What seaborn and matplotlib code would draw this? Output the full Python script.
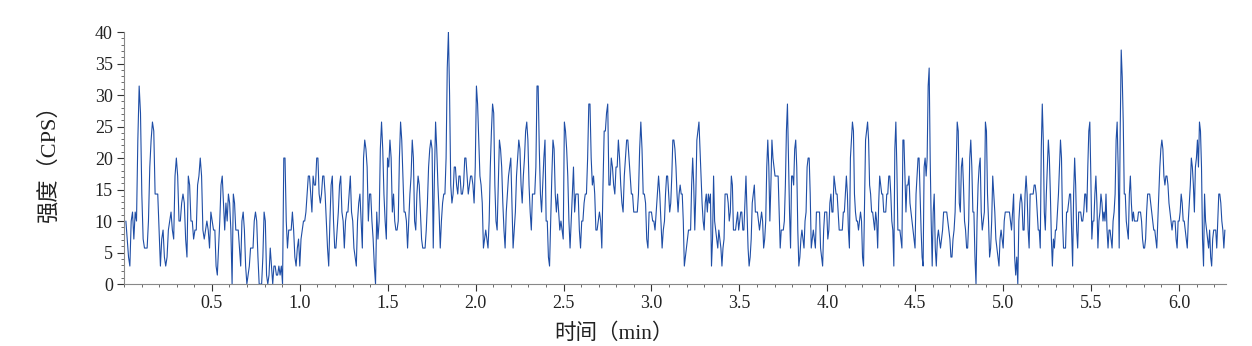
import numpy as np
import pandas as pd
import matplotlib
matplotlib.use("Agg")
import matplotlib.pyplot as plt
from matplotlib.ticker import MultipleLocator
import seaborn as sns

# Detector readings are stored in steps of 10/7 CPS (half a count per 0.35 s dwell).
CPS_PER_STEP = 10 / 7

# Segment boundaries of the acquisition (min); each list below fills one segment.
segment_edges = [0.011, 0.517, 1.028, 1.540, 2.051, 2.563, 3.074,
                 3.585, 4.097, 4.608, 5.119, 5.631, 6.261]

steps_00 = [7, 5, 3, 2, 7, 8, 5, 8, 7, 16, 22, 19, 10, 5, 4, 4, 4, 7, 13, 16, 18, 17, 10, 10,
            10, 6, 2, 5, 6, 3, 2, 3, 6, 7, 8, 6, 5, 12, 14, 12, 7, 7, 9, 10, 9, 5, 3, 12, 11, 7,
            7, 5, 6, 6, 11, 12, 14, 12, 6, 5, 6, 7, 6, 4, 8, 7, 6]
steps_01 = [6, 2, 1, 4, 7, 11, 12, 9, 6, 9, 7, 10, 9, 6, 0, 10, 9, 6, 6, 6, 4, 2, 7, 8, 6, 2,
            0, 1, 2, 4, 4, 4, 7, 8, 7, 3, 0, 0, 0, 3, 8, 7, 1, 0, 1, 4, 2, 0, 2, 2, 1, 1, 2, 1,
            2, 0, 14, 14, 7, 4, 6, 6, 6, 8, 6, 3, 2, 4, 5, 2, 5, 6, 7]
steps_02 = [7, 8, 10, 12, 12, 10, 8, 12, 11, 11, 14, 14, 10, 9, 10, 12, 12, 10, 7, 4, 2, 7, 11,
            12, 7, 4, 4, 6, 8, 11, 12, 8, 7, 4, 7, 8, 8, 10, 12, 8, 7, 4, 3, 2, 7, 9, 10, 7, 4,
            14, 16, 15, 13, 7, 10, 10, 7, 5, 2, 0, 8, 5, 7, 15, 18, 15, 10, 7, 5, 14, 13, 16, 14,
            8, 10]
steps_03 = [7, 6, 6, 7, 14, 18, 16, 12, 8, 8, 7, 4, 7, 10, 12, 16, 14, 7, 6, 10, 12, 11, 8, 5,
            4, 4, 4, 6, 9, 13, 15, 16, 15, 4, 12, 18, 15, 11, 8, 4, 7, 9, 10, 10, 14, 24, 28, 21,
            11, 9, 10, 13, 13, 11, 10, 12, 12, 10, 10, 11, 14, 14, 12, 10, 11, 12, 12, 11, 9, 13,
            22, 20, 16, 12, 11, 9, 4]
steps_04 = [5, 6, 5, 4, 7, 13, 17, 20, 19, 11, 7, 6, 11, 16, 15, 13, 9, 6, 4, 8, 10, 12, 13, 14,
            9, 4, 6, 8, 12, 14, 16, 15, 11, 9, 12, 14, 17, 18, 16, 11, 8, 6, 10, 10, 10, 13, 22,
            22, 15, 10, 8, 11, 14, 16, 7, 7, 3, 2, 7, 12, 16, 15, 10, 8, 10, 8, 6, 7, 6, 5, 18,
            17, 15, 12, 7, 4, 7, 10, 13]
steps_05 = [8, 10, 10, 10, 6, 4, 7, 7, 9, 10, 10, 14, 20, 20, 14, 11, 12, 10, 6, 6, 7, 8, 7, 4,
            11, 17, 17, 19, 20, 11, 11, 14, 13, 11, 10, 13, 13, 16, 14, 11, 9, 8, 12, 14, 16, 16,
            14, 12, 10, 10, 8, 8, 8, 8, 10, 15, 18, 15, 10, 10, 9, 5, 4, 8, 8, 8, 7, 7, 6, 8, 10,
            12, 10, 7, 4, 6]
steps_06 = [7, 10, 12, 12, 10, 8, 9, 12, 16, 16, 15, 13, 10, 8, 10, 11, 10, 10, 7, 2, 3, 4, 5,
            6, 6, 6, 11, 14, 11, 6, 10, 16, 17, 18, 15, 12, 9, 7, 6, 9, 10, 8, 10, 9, 10, 2, 5, 12,
            7, 6, 5, 4, 6, 5, 4, 2, 4, 5, 10, 10, 10, 9, 7, 8, 12, 11, 6, 6, 6, 7, 8, 6, 7, 8, 8,
            6, 6, 9, 12, 8, 4, 2, 3, 5, 9, 10]
steps_07 = [11, 8, 8, 8, 7, 6, 7, 8, 7, 4, 5, 7, 13, 16, 13, 7, 11, 16, 14, 13, 12, 12, 12, 12,
            8, 4, 6, 6, 6, 7, 11, 17, 20, 14, 8, 4, 12, 12, 11, 15, 16, 13, 6, 2, 3, 5, 6, 5, 4,
            7, 8, 13, 14, 14, 10, 4, 5, 6, 5, 4, 8, 8, 8, 8, 4, 3, 2, 6, 8, 8, 8, 5, 6, 9, 10, 8,
            8, 12, 11, 10, 10, 8, 6, 6, 6, 6, 8]
steps_08 = [8, 10, 12, 10, 6, 4, 14, 16, 18, 17, 10, 8, 7, 7, 6, 7, 8, 7, 3, 2, 9, 16, 17, 18,
            16, 11, 10, 8, 8, 7, 6, 8, 7, 4, 9, 12, 11, 10, 10, 8, 8, 8, 10, 10, 12, 12, 10, 7, 6,
            2, 15, 18, 13, 6, 6, 6, 5, 4, 16, 16, 12, 8, 11, 11, 12, 9, 8, 7, 6, 5, 4, 10, 12, 14,
            14, 10, 6, 3, 2, 13, 14, 12, 14, 22, 24, 14, 7, 2, 8]
steps_09 = [10, 4, 2, 5, 6, 5, 4, 5, 6, 8, 8, 8, 8, 7, 6, 5, 3, 3, 5, 6, 8, 13, 18, 17, 9, 8, 13,
            14, 11, 7, 6, 4, 4, 7, 14, 16, 13, 8, 8, 3, 0, 7, 11, 13, 14, 8, 6, 7, 8, 18, 17, 10,
            7, 3, 4, 7, 12, 10, 8, 5, 4, 3, 2, 5, 6, 5, 4, 7, 8, 8, 8, 8, 8, 7, 6, 8, 10, 3, 1, 3,
            0, 7, 9, 10, 9, 6]
steps_10 = [6, 10, 12, 10, 6, 4, 10, 10, 10, 10, 11, 11, 10, 8, 6, 6, 4, 15, 20, 16, 8, 6, 10,
            13, 16, 14, 10, 5, 2, 5, 4, 6, 6, 8, 10, 13, 16, 14, 7, 4, 4, 4, 8, 8, 9, 10, 10, 6, 2,
            10, 14, 11, 6, 4, 8, 8, 8, 7, 7, 8, 10, 10, 8, 13, 17, 18, 12, 5, 7, 7, 10, 12, 9, 4,
            7, 8, 10, 9, 7, 8, 7, 10, 6, 4, 6, 6, 5, 4, 7]
steps_11 = [8, 10, 16, 18, 13, 4, 17, 26, 23, 18, 10, 10, 7, 6, 5, 10, 12, 9, 7, 8, 7, 7, 7, 7,
            8, 8, 8, 7, 5, 4, 4, 5, 8, 10, 10, 10, 9, 8, 7, 6, 6, 5, 4, 7, 10, 13, 15, 16, 15, 12,
            11, 12, 12, 11, 9, 8, 7, 6, 7, 7, 7, 5, 4, 7, 7, 8, 10, 9, 7, 7, 6, 5, 4, 7, 9, 11, 14,
            13, 11, 8, 13, 14, 16, 13, 18, 17, 13, 5, 2, 10, 7, 6, 5, 4, 6, 3, 2, 5, 6, 6, 6, 4, 7,
            10, 10, 9, 7, 6, 4, 6]

segments = [steps_00, steps_01, steps_02, steps_03, steps_04, steps_05,
            steps_06, steps_07, steps_08, steps_09, steps_10, steps_11]

times, intensity = [], []
for i, seg in enumerate(segments):
    last = i == len(segments) - 1
    t = np.linspace(segment_edges[i], segment_edges[i + 1], len(seg), endpoint=last)
    times.extend(t)
    intensity.extend(np.asarray(seg) * CPS_PER_STEP)

df = pd.DataFrame({"time": times, "cps": intensity})

sns.set_style("ticks")
plt.rcParams["font.family"] = ["Liberation Serif", "Noto Sans CJK SC"]

fig = plt.figure(figsize=(12.52, 3.46), dpi=100)
ax = fig.add_axes([0.0990, 0.179, 0.8806, 0.7285])

sns.lineplot(data=df, x="time", y="cps", ax=ax, color="#1f4ea6",
             linewidth=0.8, estimator=None, sort=False)

ax.set_xlim(0, 6.27)
ax.set_ylim(0, 40)
ax.set_xticks([0.5, 1.0, 1.5, 2.0, 2.5, 3.0, 3.5, 4.0, 4.5, 5.0, 5.5, 6.0])
ax.set_xticklabels([f"{v:.1f}" for v in ax.get_xticks()])
ax.xaxis.set_minor_locator(MultipleLocator(0.1))
ax.set_yticks(range(0, 41, 5))
ax.yaxis.set_minor_locator(MultipleLocator(1))

ax.tick_params(axis="both", which="major", length=5, width=0.8, direction="out",
               labelsize=13, colors="#333333", labelcolor="#222222", pad=3)
ax.tick_params(axis="both", which="minor", length=2.5, width=0.6, direction="out",
               colors="#555555")

for side in ("top", "right"):
    ax.spines[side].set_visible(False)
for side in ("left", "bottom"):
    ax.spines[side].set_color("#888888")
    ax.spines[side].set_linewidth(0.8)

ax.set_xlabel("时间（min）", fontsize=15.5, color="#222222")
ax.set_ylabel("强度（CPS）", fontsize=16, color="#222222")
ax.xaxis.set_label_coords(0.444, -0.155)
ax.yaxis.set_label_coords(-0.058, 0.5)

fig.savefig("out.png", dpi=100, facecolor="white")
